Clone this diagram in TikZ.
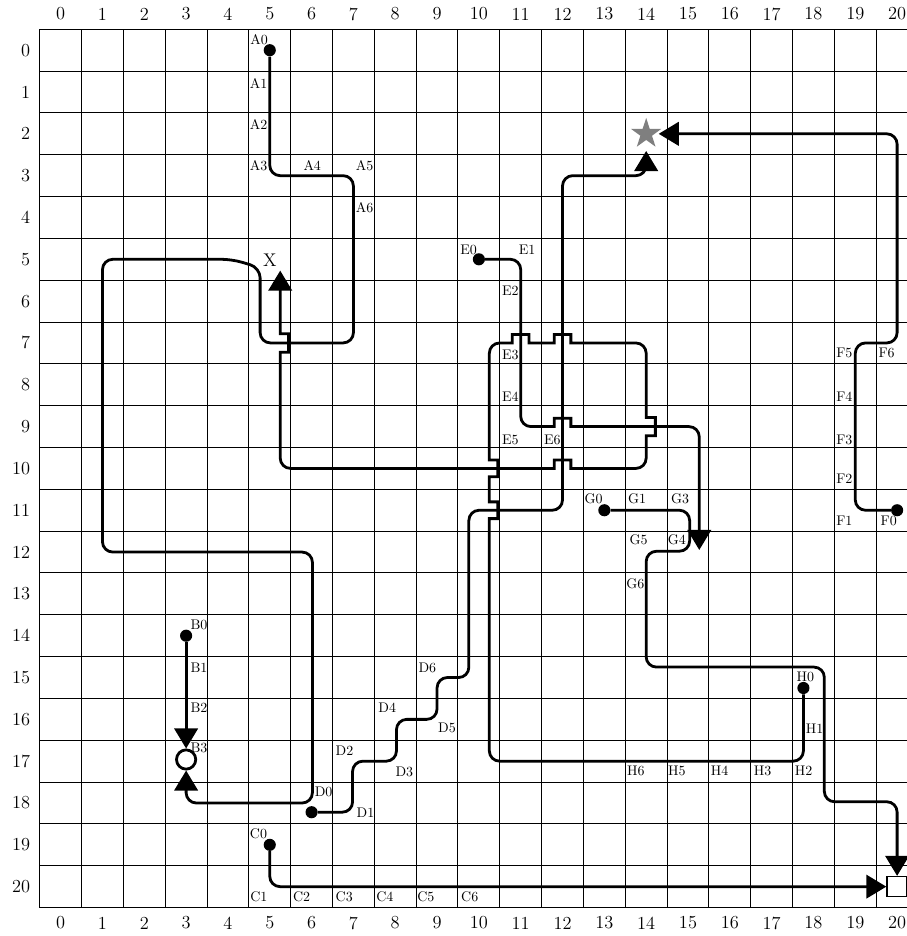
\documentclass[tikz,border=0pt]{standalone}
\usepackage{xcolor}
\usepackage{tikz}
\usetikzlibrary{arrows.meta,shapes.geometric}
\definecolor{cgris}{HTML}{7F7F7F}
\tikzset{
  rejilla/.style={draw=black, line width=0.7pt, line cap=rect},
  ruta/.style={line width=1.9pt, rounded corners=7pt},
  flecha/.style={-{Triangle[length=0.48cm,width=0.56cm]}},
  punto/.style={circle, fill=black, inner sep=0pt, minimum size=0.29cm},
  etq/.style={anchor=north west, inner sep=0pt, font=\fontsize{9.5}{11}\selectfont},
  num/.style={inner sep=0pt, font=\fontsize{12.5}{15}\selectfont},
}

\begin{document}
\begin{tikzpicture}[x=1cm,y=-1cm]
  \clip (-1.45,-1.2) rectangle (20.235,21.18);
  \foreach \i in {0,...,21} {
    \draw[rejilla] (\i-0.5,-0.5) -- (\i-0.5,20.5);
    \draw[rejilla] (-0.5,\i-0.5) -- (20.5,\i-0.5);
  }
  \foreach \i in {0,...,20} {
    \node[num] at (\i,-0.865) {\i};
    \node[num] at (\i,20.87) {\i};
    \node[num, anchor=east] at (-0.72,\i) {\i};
  }

  \node[punto] (a0) at (5,0) {};
  \node[punto] (b0) at (3,14) {};
  \node[punto] (c0) at (5,19) {};
  \node[punto] (d0) at (6,18.22) {};
  \node[punto] (e0) at (10,5) {};
  \node[punto] (f0) at (20,11) {};
  \node[punto] (g0) at (13,11) {};
  \node[punto] (h0) at (17.76,15.25) {};
  \node[num] (equis) at (5,5.03) {X};
  \node[star, star points=5, star point ratio=2.6, fill=cgris, inner sep=0pt, minimum size=0.76cm] (estrella) at (14,2) {};
  \node[circle, draw, line width=1.9pt, fill=white, inner sep=0pt, minimum size=0.46cm] (aro) at (3,16.96) {};
  \node[draw, line width=1pt, fill=white, inner sep=0pt, minimum size=0.48cm] (cuadro) at (20,20) {};
  \coordinate (finD) at (14,2.41);
  \coordinate (finE) at (15.27,11.95);
  \coordinate (finF) at (14.3,2);
  \coordinate (finH) at (5.25,5.27);

  \draw[ruta,flecha] (a0) -- (5,3) -- (7,3) -- (7,7) -- (4.77,7) -- (4.77,5.2) -- (4.1,5) -- (1,5) -- (1,12) -- (6.02,12) -- (6.02,18) -- (3,18) -- (aro);
  \draw[ruta,flecha] (b0) -- (aro);
  \draw[ruta,flecha] (c0) -- (5,20) -- (cuadro);
  \draw[ruta,flecha] (d0) -- (6.98,18.22) -- (6.98,17) -- (8.03,17) -- (8.03,16) -- (9,16) -- (9,15) -- (9.76,15) -- (9.76,11) -- (12,11) -- (12,3) -- (14,3) -- (finD);
  \draw[ruta,flecha] (e0) -- (11,5) -- (11,9) [sharp corners] -- (11.8,9) -- ++(0,-.2) -- ++(.4,0) -- ++(0,.2) [rounded corners=7pt] -- (15.27,9) -- (finE);
  \draw[ruta,flecha] (f0) -- (19,11) -- (19,7) -- (20,7) -- (20,2) -- (finF);
  \draw[ruta,flecha] (g0) -- (15.04,11) -- (15.04,11.98) -- (14,11.98) -- (14,14.75) -- (18.26,14.75) -- (18.26,17.97) -- (20,17.97) -- (cuadro);
  \draw[ruta,flecha] (h0) -- (17.76,17) -- (10.25,17) [sharp corners] -- (10.25,11.2) -- ++(.2,0) -- ++(0,-.4) -- ++(-.2,0) -- (10.25,10.2) -- ++(.2,0) -- ++(0,-.4) -- ++(-.2,0)
    [rounded corners=7pt] -- (10.25,7) [sharp corners] -- (10.8,7) -- ++(0,-.2) -- ++(.4,0) -- ++(0,.2) -- (11.8,7) -- ++(0,-.2) -- ++(.4,0) -- ++(0,.2)
    [rounded corners=7pt] -- (14,7) [sharp corners] -- (14,8.78) -- ++(.22,0) -- ++(0,.44) -- ++(-.22,0)
    [rounded corners=7pt] -- (14,10) [sharp corners] -- (12.2,10) -- ++(0,-.2) -- ++(-.4,0) -- ++(0,.2)
    [rounded corners=7pt] -- (5.25,10) [sharp corners] -- (5.25,7.22) -- ++(.2,0) -- ++(0,-.44) -- ++(-.2,0) [rounded corners=7pt] -- (finH);

  \foreach \t/\x/\y in {A0/4.53/-0.38, A1/4.52/0.66, A2/4.52/1.65, A3/4.52/2.62, A4/5.80/2.62, A5/7.05/2.62, A6/7.05/3.63,
    B0/3.10/13.62, B1/3.10/14.65, B2/3.10/15.61, B3/3.10/16.55,
    C0/4.52/18.61, C1/4.53/20.11, C2/5.55/20.11, C3/6.57/20.11, C4/7.54/20.11, C5/8.52/20.11, C6/9.57/20.11,
    D0/6.07/17.62, D1/7.07/18.10, D2/6.57/16.63, D3/8.00/17.14, D4/7.59/15.61, D5/9.02/16.08, D6/8.55/14.65,
    E0/9.55/4.65, E1/10.95/4.65, E2/10.55/5.63, E3/10.55/7.15, E4/10.55/8.16, E5/10.55/9.19, E6/11.55/9.19,
    F0/19.60/11.13, F1/18.54/11.13, F2/18.54/10.13, F3/18.54/9.19, F4/18.54/8.16, F5/18.54/7.12, F6/19.55/7.12,
    G0/12.52/10.60, G1/13.56/10.60, G3/14.59/10.60, G4/14.51/11.58, G5/13.60/11.58, G6/13.52/12.62,
    H0/17.59/14.85, H1/17.81/16.11, H2/17.55/17.10, H3/16.57/17.10, H4/15.54/17.10, H5/14.52/17.10, H6/13.54/17.10}
    \node[etq] at (\x,\y) {\t};
\end{tikzpicture}
\end{document}
